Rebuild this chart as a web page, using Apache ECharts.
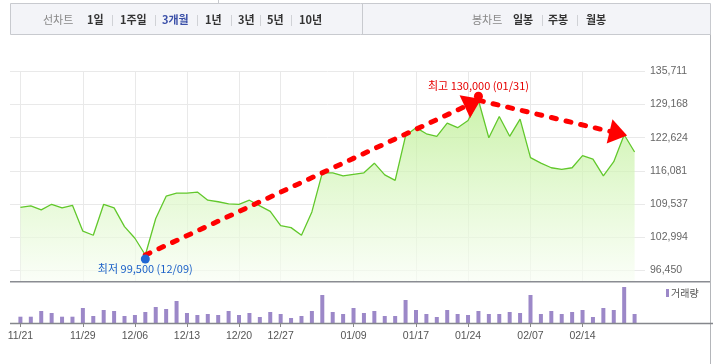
<!DOCTYPE html>
<html>
<head>
<meta charset="utf-8">
<script src="https://cdn.jsdelivr.net/npm/echarts/dist/echarts.min.js"></script>
<style>
html,body{margin:0;padding:0;background:#fff;}
#chart{width:713px;height:364px;}
</style>
</head>
<body>
<div id="chart"></div>
<script>
// ---- data ----
const dates = ['11/21','11/22','11/25','11/26','11/27','11/28','11/29','12/02','12/03','12/04',
  '12/05','12/06','12/09','12/10','12/11','12/12','12/13','12/16','12/17','12/18',
  '12/19','12/20','12/23','12/24','12/26','12/27','12/30','01/02','01/03','01/06',
  '01/07','01/08','01/09','01/10','01/13','01/14','01/15','01/16','01/17','01/20',
  '01/21','01/22','01/23','01/24','01/31','02/03','02/04','02/05','02/06','02/07',
  '02/10','02/11','02/12','02/13','02/14','02/17','02/18','02/19','02/20','02/21'];
const closes = [108900,109200,108400,109500,108800,109300,104200,103400,109500,108800,
  105100,102800,99500,106700,111100,111700,111700,111900,110300,110000,
  109600,109500,110300,109200,108100,105300,104900,103400,108000,115700,
  115700,115100,115400,115700,117600,115300,114200,123000,124600,123400,
  122900,125500,124600,126000,130000,122600,126800,122900,126300,118700,
  117600,116700,116400,116700,119100,118400,115100,117900,123200,119800];
const volumes = [63,63,120,100,63,63,150,70,130,120,
  70,80,110,160,140,220,100,80,90,80,
  120,80,100,60,110,90,50,70,120,280,
  110,90,150,100,120,70,70,230,130,90,
  60,130,90,80,120,90,90,110,100,280,
  90,120,90,110,130,60,150,130,360,90];
const yTickLabels = [96450,102994,109537,116081,122624,129168,135711];
const xTickLabels = ['11/21','11/29','12/06','12/13','12/20','12/27','01/09','01/17','01/24','02/07','02/14'];
const lineTabs = ['1일','1주일','3개월','1년','3년','5년','10년'];
const candleTabs = ['일봉','주봉','월봉'];
const arrowTargetDate = '02/20';

// ---- derived ----
const xTickIdx = xTickLabels.map(d => dates.indexOf(d));
const lowVal = Math.min(...closes), highVal = Math.max(...closes);
const lowIdx = closes.indexOf(lowVal), highIdx = closes.indexOf(highVal);
const tgtIdx = dates.indexOf(arrowTargetDate);
const priceData = closes.map((v, i) => [i, v]);
const volData = volumes.map((v, i) => [i, v]);
const fmt = v => v.toLocaleString('en-US');

const chart = echarts.init(document.getElementById('chart'), null, {renderer: 'canvas'});

const KR = '"Noto Sans CJK KR", sans-serif';
const graphics = [];
// tab bar
graphics.push({type:'line', shape:{x1:218.5,y1:0,x2:218.5,y2:3.5}, style:{stroke:'#c8cacf',lineWidth:1}, z:100});
graphics.push({type:'rect', shape:{x:10.5,y:3.5,width:700,height:31}, style:{fill:'#f3f4f8',stroke:'#c8cacf',lineWidth:1}, z:100});
graphics.push({type:'line', shape:{x1:362.5,y1:3.5,x2:362.5,y2:34.5}, style:{stroke:'#c8cacf',lineWidth:1}, z:101});
graphics.push({type:'text', x:43, y:20, style:{text:'선차트', font:'11px '+KR, fill:'#888', verticalAlign:'middle'}, z:102});
const lineTabX = [87,120,162,205,238,267,299];
const lineSepX = [112,155,197,231,260,291];
lineTabs.forEach((t,i)=>{
  graphics.push({type:'text', x:lineTabX[i], y:20, style:{text:t, font:'bold 11px '+KR, fill: t==='3개월' ? '#3b50a8' : '#333', verticalAlign:'middle'}, z:102});
});
lineSepX.forEach(x=>graphics.push({type:'line', shape:{x1:x+0.5,y1:15,x2:x+0.5,y2:26}, style:{stroke:'#d0d2d6',lineWidth:1}, z:102}));
graphics.push({type:'text', x:472, y:20, style:{text:'봉차트', font:'11px '+KR, fill:'#888', verticalAlign:'middle'}, z:102});
const candleTabX = [513,548,586];
candleTabs.forEach((t,i)=>{
  graphics.push({type:'text', x:candleTabX[i], y:20, style:{text:t, font:'bold 11px '+KR, fill:'#333', verticalAlign:'middle'}, z:102});
});
[542,577].forEach(x=>graphics.push({type:'line', shape:{x1:x+0.5,y1:15,x2:x+0.5,y2:26}, style:{stroke:'#d0d2d6',lineWidth:1}, z:102}));
// frame lines
graphics.push({type:'line', shape:{x1:710.5,y1:34.5,x2:710.5,y2:364}, style:{stroke:'#b4b6ba',lineWidth:1}, z:100});
graphics.push({type:'line', shape:{x1:10,y1:281.8,x2:710,y2:281.8}, style:{stroke:'#8a8c92',lineWidth:1.5}, z:100});
graphics.push({type:'line', shape:{x1:10,y1:323.5,x2:713,y2:323.5}, style:{stroke:'#85878c',lineWidth:1.5}, z:100});
// volume legend
graphics.push({type:'rect', shape:{x:666,y:289,width:3,height:8}, style:{fill:'#9c88c8'}, z:100});
graphics.push({type:'text', x:671, y:293, style:{text:'거래량', font:'10px '+KR, fill:'#555', verticalAlign:'middle'}, z:100});

const option = {
  animation: false,
  grid: [
    {left:10, right:68, top:71.3, height:210},
    {left:10, right:68, top:283, height:40}
  ],
  xAxis: [
    {type:'value', gridIndex:0, min:-1, max:60,
     axisLine:{show:false}, axisLabel:{show:false},
     axisTick:{show:false, customValues:xTickIdx},
     splitLine:{show:true, lineStyle:{color:'#e9e9e9', width:1}}},
    {type:'value', gridIndex:1, min:-1, max:60,
     axisLine:{show:false},
     axisTick:{show:true, customValues:xTickIdx, length:4, lineStyle:{color:'#888'}},
     axisLabel:{show:true, customValues:xTickIdx, formatter: v => dates[Math.round(v)], color:'#555',
       fontFamily:'Liberation Sans', fontSize:10.5, margin:8},
     splitLine:{show:false}}
  ],
  yAxis: [
    {type:'value', gridIndex:0, position:'right', min:94320, max:135711,
     axisLine:{show:false},
     axisTick:{show:false, customValues:yTickLabels},
     axisLabel:{customValues:yTickLabels, formatter: v => fmt(v), color:'#666',
       fontFamily:'Liberation Sans', fontSize:10.5, margin:5},
     splitLine:{show:true, lineStyle:{color:'#e9e9e9', width:1}}},
    {type:'value', gridIndex:1, min:0, max:400, show:false, splitLine:{show:false}}
  ],
  series: [
    {type:'line', xAxisIndex:0, yAxisIndex:0, data:priceData, symbol:'none',
     lineStyle:{color:'#62c82c', width:1.3},
     areaStyle:{color:new echarts.graphic.LinearGradient(0,0,0,1,[
       {offset:0, color:'#b6ec88'},
       {offset:0.5, color:'#d9f6c2'},
       {offset:1, color:'#f8fdf4'}])},
     markLine:{
       silent:true, symbol:['none','triangle'], symbolSize:[25,18],
       symbolOffset:[0,[0,6]],
       lineStyle:{color:'#ff0000', width:5, type:[5,10], cap:'round'},
       itemStyle:{color:'#ff0000'},
       label:{show:false},
       data:[
         [{coord:[lowIdx, lowVal]}, {coord:[highIdx, highVal]}],
         [{coord:[highIdx, highVal]}, {coord:[tgtIdx, closes[tgtIdx]]}]
       ]
     },
     markPoint:{
       silent:true, symbol:'circle', symbolSize:9,
       data:[
         {coord:[lowIdx, lowVal], symbolOffset:[0,4], itemStyle:{color:'#2168d4'},
          label:{show:true, position:'bottom', distance:0, color:'#1d62c8', fontFamily:'Noto Sans CJK KR', fontSize:11,
            formatter:'최저 ' + fmt(lowVal) + ' (' + dates[lowIdx] + ')'}},
         {coord:[highIdx, highVal], symbolOffset:[0,-4], itemStyle:{color:'#ff0000'},
          label:{show:true, position:'top', distance:0, color:'#e60000', fontFamily:'Noto Sans CJK KR', fontSize:11,
            formatter:'최고 ' + fmt(highVal) + ' (' + dates[highIdx] + ')'}}
       ]
     }
    },
    {type:'bar', xAxisIndex:1, yAxisIndex:1, data:volData, barWidth:4,
     itemStyle:{color:'#9c88c8'}}
  ],
  graphic: graphics
};
chart.setOption(option);
</script>
</body>
</html>
